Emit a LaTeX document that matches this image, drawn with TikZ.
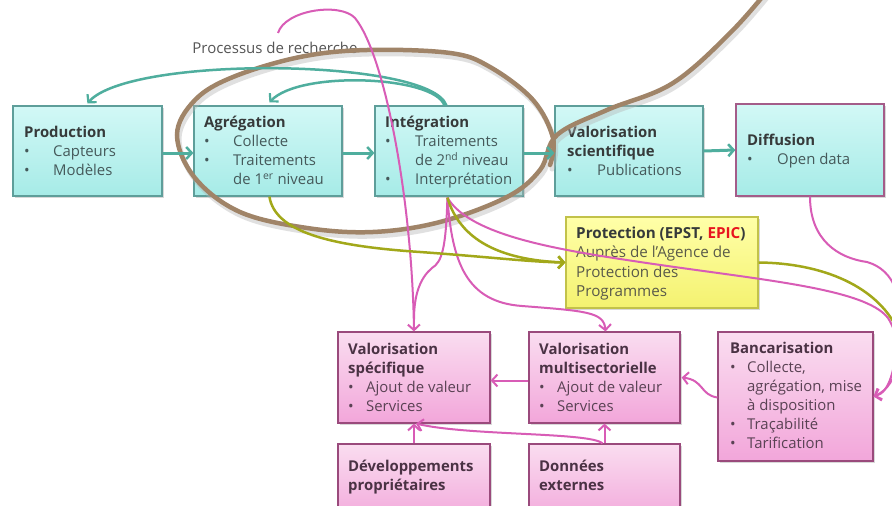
\documentclass[tikz,border=0pt]{standalone}
\usepackage{fontspec}
\setmainfont{Open Sans}
\usetikzlibrary{arrows.meta,shadows,calc}

\definecolor{tealfillT}{HTML}{D2F8F6}
\definecolor{tealfillB}{HTML}{A6EBE7}
\definecolor{tealedge}{HTML}{5E9E9A}
\definecolor{pinkfillT}{HTML}{FADDF0}
\definecolor{pinkfillB}{HTML}{F2A6DA}
\definecolor{pinkedge}{HTML}{9A4A7C}
\definecolor{yelT}{HTML}{FFFFA8}
\definecolor{yelB}{HTML}{F4F270}
\definecolor{yeledge}{HTML}{C2C24A}
\definecolor{tealline}{HTML}{4FAE9E}
\definecolor{pinkline}{HTML}{D85CB6}
\definecolor{oliveline}{HTML}{A2A81A}
\definecolor{brownline}{HTML}{A08468}
\definecolor{titlegray}{HTML}{363A3A}
\definecolor{tealtext}{HTML}{45595A}
\definecolor{pinktitle}{HTML}{4A3244}
\definecolor{pinktext}{HTML}{5A4254}
\definecolor{yeltext}{HTML}{5A5A4A}
\definecolor{epicred}{HTML}{E8141E}
\definecolor{labelgray}{HTML}{555555}

% bullet cell of fixed width
\newcommand\bul[1]{\makebox[#1][l]{\textbullet}}

\tikzset{
  boxbase/.style={rectangle, inner sep=0pt, line width=1.2pt,
    drop shadow={shadow xshift=1.5pt, shadow yshift=-1.5pt, opacity=0.3}},
  tealbox/.style={boxbase, draw=tealedge, top color=tealfillT, bottom color=tealfillB},
  diffbox/.style={boxbase, draw=pinkedge!90, top color=tealfillT, bottom color=tealfillB},
  pinkbox/.style={boxbase, draw=pinkedge, top color=pinkfillT, bottom color=pinkfillB},
  yelbox/.style={boxbase, draw=yeledge, top color=yelT, bottom color=yelB},
  txt/.style={anchor=base west, inner sep=0pt, font=\fontsize{14.9}{19}\selectfont},
  tealflow/.style={draw=tealline, line width=3pt, -{Straight Barb[length=5.5pt,width=12pt,line width=2.5pt]}},
  tealloop/.style={draw=tealline, line width=2.5pt, -{Straight Barb[length=5.5pt,width=12pt,line width=2.2pt]}},
  pinkflow/.style={draw=pinkline, line width=2pt, -{Straight Barb[length=5.5pt,width=12pt,line width=2pt]}},
  pinkplain/.style={draw=pinkline, line width=2pt},
  oliveflow/.style={draw=oliveline, line width=2.5pt, -{Straight Barb[length=5.5pt,width=12pt,line width=2.5pt]}},
  oliveplain/.style={draw=oliveline, line width=2.5pt},
}

\begin{document}
\begin{tikzpicture}[x=1pt,y=-1pt]
\fill[white] (0,0) rectangle (892,506);
\useasboundingbox (0,0) rectangle (892,506);

% ---------- research chain ----------
\node[tealbox, minimum width=149pt, minimum height=90pt] (prod)   at (87.5,151) {};
\node[tealbox, minimum width=148pt, minimum height=90pt] (agr)    at (268,151) {};
\node[tealbox, minimum width=148pt, minimum height=90pt] (integ)  at (449,151) {};
\node[tealbox, minimum width=148pt, minimum height=90pt] (valsci) at (629,151) {};
\node[diffbox, minimum width=148pt, minimum height=92pt] (diff)   at (810,150) {};

\node[txt] (prod-t) at (24,137.5) {\begin{tabular}[t]{@{}l@{}l@{}}
  \multicolumn{2}{@{}l@{}}{\color{titlegray}\bfseries Production}\\
  \color{tealtext}\bul{29pt} & \color{tealtext}Capteurs\\
  \color{tealtext}\bul{29pt} & \color{tealtext}Modèles
\end{tabular}};
\node[txt] (agr-t) at (204,127.5) {\begin{tabular}[t]{@{}l@{}l@{}}
  \multicolumn{2}{@{}l@{}}{\color{titlegray}\bfseries Agrégation}\\
  \color{tealtext}\bul{29pt} & \color{tealtext}Collecte\\
  \color{tealtext}\bul{29pt} & \color{tealtext}Traitements\\
  & \color{tealtext}de 1\textsuperscript{er} niveau
\end{tabular}};
\node[txt] (integ-t) at (385,127.5) {\begin{tabular}[t]{@{}l@{}l@{}}
  \multicolumn{2}{@{}l@{}}{\color{titlegray}\bfseries Intégration}\\
  \color{tealtext}\bul{30pt} & \color{tealtext}Traitements\\
  & \color{tealtext}de 2\textsuperscript{nd} niveau\\
  \color{tealtext}\bul{30pt} & \color{tealtext}Interprétation
\end{tabular}};
\node[txt] (valsci-t) at (567,137.5) {\begin{tabular}[t]{@{}l@{}l@{}}
  \multicolumn{2}{@{}l@{}}{\color{titlegray}\bfseries Valorisation}\\
  \multicolumn{2}{@{}l@{}}{\color{titlegray}\bfseries scientifique}\\
  \color{tealtext}\bul{30pt} & \color{tealtext}Publications
\end{tabular}};
\node[txt] (diff-t) at (747,145.5) {\begin{tabular}[t]{@{}l@{}l@{}}
  \multicolumn{2}{@{}l@{}}{\color{titlegray}\bfseries Diffusion}\\
  \color{tealtext}\bul{30pt} & \color{tealtext}Open data
\end{tabular}};

\node[font=\fontsize{15}{18}\selectfont, text=labelgray, inner sep=0pt] (label) at (275,48) {Processus de recherche};

% ---------- protection ----------
\node[yelbox, minimum width=192pt, minimum height=91pt] (prot) at (662,262.5) {};
\node[txt, font=\fontsize{15.2}{19.3}\selectfont] (prot-t) at (576,238.5) {\begin{tabular}[t]{@{}l@{}}
  \color{titlegray}\bfseries Protection (EPST, \textcolor{epicred}{EPIC})\\
  \color{yeltext}Auprès de l’Agence de\\
  \color{yeltext}Protection des\\
  \color{yeltext}Programmes
\end{tabular}};

% ---------- exploitation ----------
\node[pinkbox, minimum width=152pt, minimum height=91pt]  (valspe) at (414,377.5) {};
\node[pinkbox, minimum width=151pt, minimum height=91pt]  (valmul) at (604.5,377.5) {};
\node[pinkbox, minimum width=155pt, minimum height=129pt] (banc)   at (795.5,396.5) {};
\node[pinkbox, minimum width=152pt, minimum height=80pt]  (dev)    at (414,484) {};
\node[pinkbox, minimum width=151pt, minimum height=80pt]  (donn)   at (604.5,484) {};

\node[txt] (valspe-t) at (348,354.5) {\begin{tabular}[t]{@{}l@{}l@{}}
  \multicolumn{2}{@{}l@{}}{\color{pinktitle}\bfseries Valorisation}\\
  \multicolumn{2}{@{}l@{}}{\color{pinktitle}\bfseries spécifique}\\
  \color{pinktext}\bul{18pt} & \color{pinktext}Ajout de valeur\\
  \color{pinktext}\bul{18pt} & \color{pinktext}Services
\end{tabular}};
\node[txt] (valmul-t) at (539,354.5) {\begin{tabular}[t]{@{}l@{}l@{}}
  \multicolumn{2}{@{}l@{}}{\color{pinktitle}\bfseries Valorisation}\\
  \multicolumn{2}{@{}l@{}}{\color{pinktitle}\bfseries multisectorielle}\\
  \color{pinktext}\bul{18pt} & \color{pinktext}Ajout de valeur\\
  \color{pinktext}\bul{18pt} & \color{pinktext}Services
\end{tabular}};
\node[txt] (banc-t) at (730,353.5) {\begin{tabular}[t]{@{}l@{}l@{}}
  \multicolumn{2}{@{}l@{}}{\color{pinktitle}\bfseries Bancarisation}\\
  \color{pinktext}\bul{17pt} & \color{pinktext}Collecte,\\
  & \color{pinktext}agrégation, mise\\
  & \color{pinktext}à disposition\\
  \color{pinktext}\bul{17pt} & \color{pinktext}Traçabilité\\
  \color{pinktext}\bul{17pt} & \color{pinktext}Tarification
\end{tabular}};
\node[txt] (dev-t) at (348,471) {\begin{tabular}[t]{@{}l@{}}
  \color{pinktitle}\bfseries Développements\\
  \color{pinktitle}\bfseries propriétaires
\end{tabular}};
\node[txt] (donn-t) at (539,471) {\begin{tabular}[t]{@{}l@{}}
  \color{pinktitle}\bfseries Données\\
  \color{pinktitle}\bfseries externes
\end{tabular}};

% ---------- lasso round aggregation and integration ----------
\def\lasso{(776,-20) (733,30) (673,83) (607,110) (557,135) (540,170) (507,197) (440,222) (373,232) (307,228) (240,212) (195,178) (177,135) (195,100) (233,77) (300,57) (367,50) (450,53) (490,67) (533,100) (553,138) (550,165)}
\draw[line width=5pt, black!30, opacity=0.4, shift={(2,4)}, line cap=round]
  plot[smooth, tension=0.6] coordinates {\lasso};
\draw[line width=4.5pt, brownline, line cap=round]
  plot[smooth, tension=0.6] coordinates {\lasso};

% ---------- main flow ----------
\draw[tealflow] ($(prod.east)+(0,2)$) -- ($(agr.west)+(0,2)$);
\draw[tealflow] ($(agr.east)+(0,2)$) -- ($(integ.west)+(0,2)$);
\draw[tealflow] ($(integ.east)+(0,2)$) -- ($(valsci.west)+(0,2)$);
\draw[tealflow] (valsci.east) -- (diff.west);

% ---------- feedback loops ----------
\coordinate (intTop) at ($(integ.north west)+(72,0)$);
\draw[tealloop] (intTop) .. controls (430,58) and (130,55) .. ($(prod.north west)+(75,-2)$);
\draw[tealloop] ($(intTop)+(-2,0)$) .. controls (435,76) and (300,70) .. ($(agr.north west)+(76,-3)$);

% ---------- exploitation links ----------
\coordinate (intBot) at ($(integ.south west)+(73,1)$);
\coordinate (agrBot) at ($(agr.south west)+(76,0)$);
\coordinate (topStart) at (278,33);

\draw[pinkflow] (topStart) .. controls (285,10) and (340,2) .. (355,18)
  .. controls (385,55) and (412,200) .. (valspe.north);
\draw[pinkplain] (intBot) .. controls (446,248) and (442,262) .. (432,268)
  .. controls (420,278) and (414,295) .. ($(valspe.north)+(0,-12)$);
\draw[pinkflow] (intBot) .. controls (452,262) and (466,302) .. (522,306)
  .. controls (586,311) and (604,312) .. ($(valmul.north)+(1,0)$);
\draw[pinkflow] (intBot) .. controls (470,236) and (560,250) .. (640,262)
  .. controls (760,280) and (865,288) .. (888,318)
  .. controls (905,345) and (900,385) .. (banc.east);
\draw[pinkflow] (diff.south) .. controls (810,240) and (838,258) .. (867,262)
  .. controls (895,270) and (905,300) .. (898,340)
  .. controls (894,370) and (890,392) .. (banc.east);

\draw[oliveflow] (agrBot) .. controls (275,232) and (330,246) .. (420,252)
  .. controls (490,257) and (530,262) .. (prot.west);
\draw[oliveflow] (intBot) .. controls (460,240) and (500,260) .. (prot.west);
\draw[oliveplain] (prot.east) .. controls (820,263) and (880,285) .. (900,335);

\draw[pinkflow] ($(valmul.west)+(0,3)$) -- ($(valspe.east)+(0,3)$);
\draw[pinkflow] ($(banc.west)+(0,1)$) .. controls (700,395) and (704,380) .. ($(valmul.east)+(1,0)$);
\draw[pinkflow] (dev.north) -- (valspe.south);
\draw[pinkflow] (donn.north) -- (valmul.south);
\draw[pinkflow] ($(donn.north)+(-2,0)$) .. controls (590,432) and (470,436) .. ($(valspe.south)+(2,0)$);
\end{tikzpicture}
\end{document}
